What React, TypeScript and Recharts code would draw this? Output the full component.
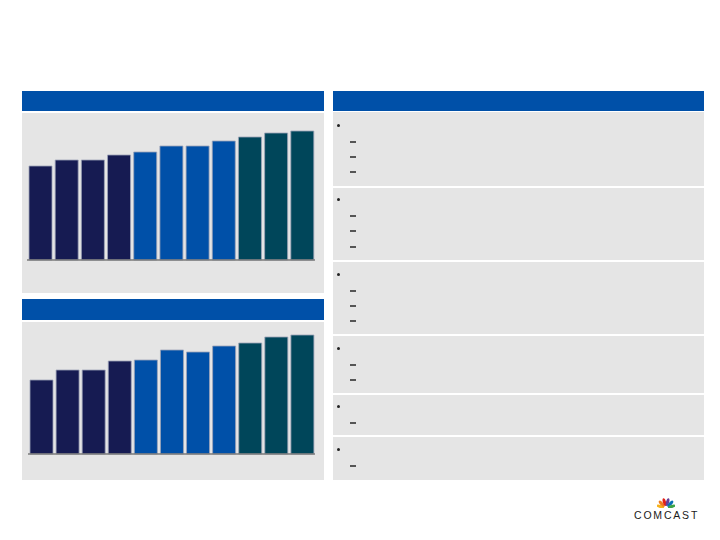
import { BarChart, Bar, XAxis, YAxis, Cell } from 'recharts'

// periods (no labels shown on the slide)
const periods = ['1', '2', '3', '4', '5', '6', '7', '8', '9', '10', '11']
const topValues = [94, 100, 100, 105, 108, 114, 114, 119, 123, 127, 129]
const bottomValues = [74, 84, 84, 93, 94, 104, 102, 108, 111, 117, 119]
const barColors = [
  '#161b52', '#161b52', '#161b52', '#161b52',
  '#0050a8', '#0050a8', '#0050a8', '#0050a8',
  '#00465a', '#00465a', '#00465a',
]

const topData = periods.map((p, i) => ({ period: p, value: topValues[i] }))
const bottomData = periods.map((p, i) => ({ period: p, value: bottomValues[i] }))

const BLUE = '#0050a8'
const GRAY = '#e5e5e5'

// right-hand text panel: bullet rows (blank copy on the slide)
const sections = [
  { top: 112, bottom: 186, bullet: 125, dashes: [142, 157, 172] },
  { top: 188, bottom: 260, bullet: 199, dashes: [216, 231, 247] },
  { top: 262, bottom: 334, bullet: 274, dashes: [291, 306, 321] },
  { top: 336, bottom: 393, bullet: 348, dashes: [365, 380] },
  { top: 395, bottom: 435, bullet: 406, dashes: [423] },
  { top: 437, bottom: 480, bullet: 449, dashes: [466] },
]

function Panel({ data, left, top, width, height, max }: {
  data: { period: string; value: number }[]
  left: number; top: number; width: number; height: number; max: number
}) {
  return (
    <div style={{ position: 'absolute', left, top }}>
      <BarChart width={width} height={height + 2} data={data} margin={{ top: 0, right: 0, left: 0, bottom: 0 }} barSize={23}>
        <XAxis dataKey="period" tick={false} tickLine={false} height={2} axisLine={{ stroke: '#7a7a7a', strokeWidth: 1.5 }} />
        <YAxis hide domain={[0, max]} />
        <Bar dataKey="value" isAnimationActive={false} stroke="#9ea4b8" strokeWidth={1} strokeOpacity={0.8}>
          {data.map((d, i) => <Cell key={d.period} fill={barColors[i]} />)}
        </Bar>
      </BarChart>
    </div>
  )
}

function Peacock() {
  const feathers = ['#f6b21b', '#ef7d22', '#e2231a', '#6a3e98', '#0a6fb7', '#3da447']
  return (
    <svg width={18} height={10} style={{ position: 'absolute', left: 657, top: 498 }}>
      {feathers.map((c, i) => {
        const a = -75 + i * 30
        return (
          <ellipse key={c} cx={9} cy={5} rx={1.6} ry={4} fill={c}
            transform={`rotate(${a} 9 10) translate(0 -1)`} />
        )
      })}
    </svg>
  )
}

export default function App() {
  return (
    <div style={{ position: 'fixed', left: 0, top: 0, width: 720, height: 540, background: '#fff', overflow: 'hidden' }}>
      {/* left top panel */}
      <div style={{ position: 'absolute', left: 22, top: 91, width: 302, height: 20, background: BLUE }} />
      <div style={{ position: 'absolute', left: 22, top: 113, width: 302, height: 180, background: GRAY }} />
      {/* left bottom panel */}
      <div style={{ position: 'absolute', left: 22, top: 299, width: 302, height: 21, background: BLUE }} />
      <div style={{ position: 'absolute', left: 22, top: 322, width: 302, height: 158, background: GRAY }} />

      <Panel data={topData} left={27} top={120} width={288} height={140} max={140} />
      <Panel data={bottomData} left={28} top={334} width={287} height={120} max={120} />

      {/* right panel */}
      <div style={{ position: 'absolute', left: 333, top: 91, width: 371, height: 20, background: BLUE }} />
      {sections.map((s, i) => (
        <div key={i}>
          <div style={{ position: 'absolute', left: 333, top: s.top, width: 371, height: s.bottom - s.top, background: GRAY }} />
          <div style={{ position: 'absolute', left: 337, top: s.bullet - 1.5, width: 3, height: 3, borderRadius: 1.5, background: '#222' }} />
          {s.dashes.map(y => (
            <div key={y} style={{ position: 'absolute', left: 350, top: y - 1, width: 6, height: 1.5, background: '#555' }} />
          ))}
        </div>
      ))}

      {/* logo */}
      <Peacock />
      <div style={{ position: 'absolute', left: 634, top: 509, fontFamily: 'Liberation Sans, Arial, sans-serif', fontSize: 10.5, letterSpacing: 1.8, color: '#1a1a1a', lineHeight: '12px' }}>
        COMCAST
      </div>
    </div>
  )
}
